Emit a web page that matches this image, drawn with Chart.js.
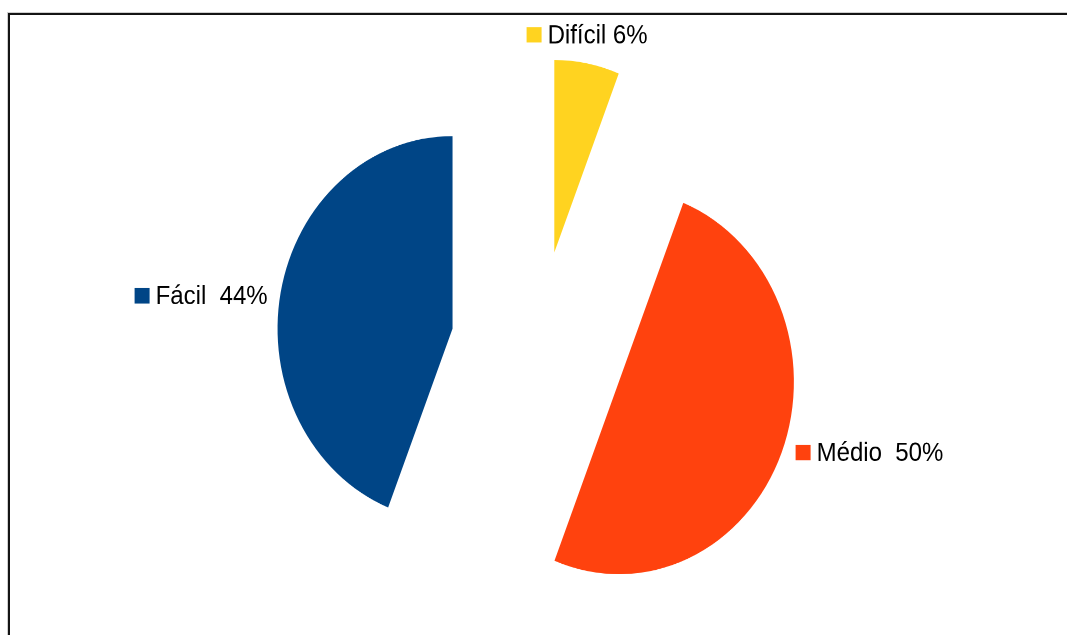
<!DOCTYPE html>
<html><head><meta charset="utf-8">
<script src="https://cdn.jsdelivr.net/npm/chart.js@4.4.0/dist/chart.umd.min.js"></script>
<style>
html,body{margin:0;padding:0;background:#fff;overflow:hidden;width:1067px;height:635px;}
#frame{position:absolute;left:8px;top:13px;width:1200px;height:800px;border-top:2px solid #141414;border-left:2px solid #141414;box-sizing:border-box;box-shadow:-1px -1px 0 #cfcfcf;}
#wrap{position:absolute;left:0;top:0;width:1067px;height:577px;transform:scaleY(1.1);transform-origin:0 0;}
</style></head><body>
<div id="frame"></div>
<div id="wrap"><canvas id="c"></canvas></div>
<script>
const categories = ['Difícil', 'Médio', 'Fácil'];
const values = [6, 50, 44];
const sliceLabels = ['Difícil 6%', 'Médio  50%', 'Fácil  44%'];
const colors = ['#FFD320', '#FF420E', '#004586'];

const EXPLODE = 87;

// Moves each slice outward along its bisector (straight-edged exploded pie)
const explodePlugin = {
  id: 'explode',
  beforeDatasetsDraw(chart) {
    chart.getDatasetMeta(0).data.forEach(arc => {
      if (arc._exploded) return;
      const orig = arc.draw;
      arc.draw = function (ctx, ...rest) {
        const mid = (this.startAngle + this.endAngle) / 2;
        ctx.save();
        ctx.translate(Math.cos(mid) * EXPLODE, Math.sin(mid) * EXPLODE);
        orig.call(this, ctx, ...rest);
        ctx.restore();
      };
      arc._exploded = true;
    });
  }
};

const labelPlugin = {
  id: 'sliceLabels',
  afterDatasetsDraw(chart) {
    const ctx = chart.ctx;
    const meta = chart.getDatasetMeta(0);
    ctx.save();
    ctx.font = '24px "Liberation Sans", Arial, sans-serif';
    ctx.textBaseline = 'middle';
    ctx.textAlign = 'left';
    meta.data.forEach((arc, i) => {
      const p = arc.getProps(['x', 'y', 'startAngle', 'endAngle', 'outerRadius'], true);
      const mid = (p.startAngle + p.endAngle) / 2;
      const dx = Math.cos(mid), dy = Math.sin(mid);
      const ox = p.x + dx * (EXPLODE + p.outerRadius);
      const oy = p.y + dy * (EXPLODE + p.outerRadius);
      const text = sliceLabels[i];
      const tw = ctx.measureText(text).width;
      const sw = 15, sh = 14, gap = 6;
      const w = sw + gap + tw;
      let left, cy;
      if (Math.abs(dx) > 0.7) {
        cy = oy + (dx < 0 ? 3 : 0);
        left = dx > 0 ? ox + 14 : ox - 13 - w;
      } else {
        left = ox - w / 2;
        cy = oy + Math.sign(dy) * 26;
      }
      ctx.fillStyle = colors[i];
      ctx.fillRect(left, cy - sh / 2, sw, sh);
      ctx.fillStyle = '#000';
      ctx.fillText(text, left + sw + gap, cy + 1);
    });
    ctx.restore();
  }
};

new Chart(document.getElementById('c'), {
  type: 'pie',
  data: {
    labels: categories,
    datasets: [{
      data: values,
      backgroundColor: colors,
      borderWidth: 0,
      radius: 175,
      offset: 0,
      hoverOffset: 0
    }]
  },
  options: {
    responsive: true,
    maintainAspectRatio: false,
    animation: false,
    devicePixelRatio: 2,
    events: [],
    rotation: 0,
    layout: { padding: { left: 9, top: 53, right: 0, bottom: 0 } },
    plugins: { legend: { display: false }, tooltip: { enabled: false } }
  },
  plugins: [explodePlugin, labelPlugin]
});
</script>
</body></html>
